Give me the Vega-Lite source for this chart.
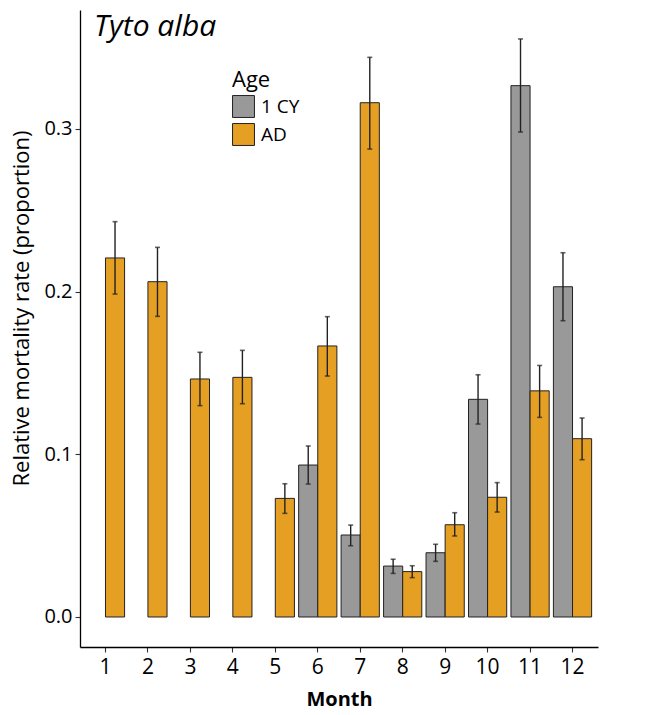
{
  "$schema": "https://vega.github.io/schema/vega-lite/v6.json",
  "width": 518,
  "height": 637,
  "autosize": {"type": "none"},
  "padding": {"left": 80, "top": 10, "right": 50, "bottom": 68},
  "background": "white",
  "config": {
    "font": "Open Sans",
    "view": {"stroke": null},
    "axis": {"grid": false, "domainColor": "#000000", "domainWidth": 1.3, "tickColor": "#333333", "tickWidth": 1.1, "tickSize": 5, "labelColor": "#000000", "titleColor": "#000000", "labelFont": "Open Sans", "titleFont": "Open Sans"},
    "axisY": {"labelFontSize": 20, "titleFontSize": 22, "titleFontWeight": "normal", "titlePadding": 10, "labelPadding": 3, "titleY": 298},
    "legend": {"labelFont": "Open Sans", "titleFont": "Open Sans"}
  },
  "title": {
    "text": "Tyto alba",
    "anchor": "start",
    "frame": "group",
    "fontSize": 30,
    "fontStyle": "italic",
    "fontWeight": "normal",
    "font": "Open Sans",
    "color": "#000000",
    "baseline": "alphabetic",
    "dx": 14,
    "dy": 56,
    "offset": 0
  },
  "data": {
    "values": [
      {"month": 1, "age": "AD", "rate": 0.2207, "lo": 0.1985, "hi": 0.243},
      {"month": 2, "age": "AD", "rate": 0.2061, "lo": 0.1848, "hi": 0.2272},
      {"month": 3, "age": "AD", "rate": 0.1463, "lo": 0.1299, "hi": 0.1627},
      {"month": 4, "age": "AD", "rate": 0.1473, "lo": 0.1311, "hi": 0.1639},
      {"month": 5, "age": "AD", "rate": 0.0729, "lo": 0.0637, "hi": 0.0819},
      {"month": 6, "age": "1 CY", "rate": 0.0934, "lo": 0.0817, "hi": 0.1051},
      {"month": 6, "age": "AD", "rate": 0.1666, "lo": 0.1481, "hi": 0.1846},
      {"month": 7, "age": "1 CY", "rate": 0.0504, "lo": 0.0438, "hi": 0.0565},
      {"month": 7, "age": "AD", "rate": 0.3161, "lo": 0.2876, "hi": 0.344},
      {"month": 8, "age": "1 CY", "rate": 0.0313, "lo": 0.0268, "hi": 0.0355},
      {"month": 8, "age": "AD", "rate": 0.0279, "lo": 0.0242, "hi": 0.0315},
      {"month": 9, "age": "1 CY", "rate": 0.0395, "lo": 0.0342, "hi": 0.0447},
      {"month": 9, "age": "AD", "rate": 0.0567, "lo": 0.0498, "hi": 0.0641},
      {"month": 10, "age": "1 CY", "rate": 0.1338, "lo": 0.1186, "hi": 0.1489},
      {"month": 10, "age": "AD", "rate": 0.0736, "lo": 0.0645, "hi": 0.0826},
      {"month": 11, "age": "1 CY", "rate": 0.3266, "lo": 0.2981, "hi": 0.3553},
      {"month": 11, "age": "AD", "rate": 0.139, "lo": 0.1227, "hi": 0.1546},
      {"month": 12, "age": "1 CY", "rate": 0.203, "lo": 0.1821, "hi": 0.2239},
      {"month": 12, "age": "AD", "rate": 0.1096, "lo": 0.0967, "hi": 0.1223}
    ]
  },
  "encoding": {
    "x": {
      "field": "month",
      "type": "ordinal",
      "scale": {"paddingInner": 0.1, "paddingOuter": 0.15},
      "axis": {"title": "Month", "titleFontSize": 20, "titleFontWeight": "bold", "titlePadding": 12, "labelFontSize": 21, "labelAngle": 0, "labelPadding": 4}
    },
    "xOffset": {
      "field": "age",
      "type": "nominal",
      "scale": {"domain": ["1 CY", "AD"], "paddingInner": 0, "paddingOuter": 0}
    }
  },
  "layer": [
    {
      "mark": {"type": "bar", "stroke": "#222222", "strokeWidth": 1},
      "encoding": {
        "y": {
          "field": "rate",
          "type": "quantitative",
          "scale": {"domain": [-0.01844, 0.3731], "nice": false, "zero": false},
          "axis": {"title": "Relative mortality rate (proportion)", "values": [0, 0.1, 0.2, 0.3], "format": ".1f"}
        },
        "y2": {"datum": 0},
        "color": {
          "field": "age",
          "type": "nominal",
          "scale": {"domain": ["1 CY", "AD"], "range": ["#999999", "#E5A024"]},
          "legend": {
            "title": "Age",
            "orient": "none",
            "legendX": 152,
            "legendY": 60,
            "titleFontSize": 22,
            "titleFontWeight": "normal",
            "titleColor": "#000000",
            "labelFontSize": 19,
            "labelColor": "#000000",
            "symbolType": "square",
            "symbolSize": 480,
            "symbolStrokeColor": "#222222",
            "symbolStrokeWidth": 1,
            "symbolOpacity": 1,
            "rowPadding": 1,
            "titlePadding": 3,
            "labelOffset": 6
          }
        }
      }
    },
    {
      "mark": {"type": "rule", "color": "#222222", "strokeWidth": 1.4},
      "encoding": {
        "y": {"field": "lo", "type": "quantitative"},
        "y2": {"field": "hi"}
      }
    },
    {
      "mark": {"type": "tick", "color": "#222222", "thickness": 1.6, "size": 5},
      "encoding": {"y": {"field": "lo", "type": "quantitative"}}
    },
    {
      "mark": {"type": "tick", "color": "#222222", "thickness": 1.6, "size": 5},
      "encoding": {"y": {"field": "hi", "type": "quantitative"}}
    }
  ]
}
